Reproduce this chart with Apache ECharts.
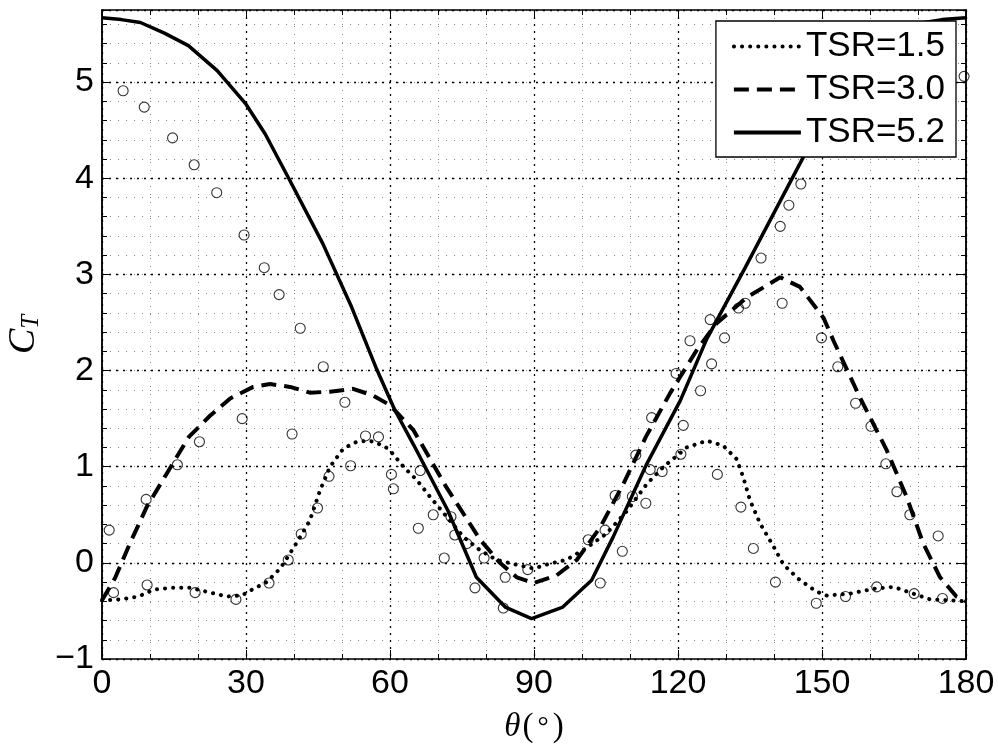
<!DOCTYPE html>
<html>
<head>
    <meta charset="utf-8">
    <script src="https://cdn.jsdelivr.net/npm/echarts@6/dist/echarts.min.js"></script>
    <style>
        html, body { margin: 0; padding: 0; background: #fff; }
    </style>
</head>
<body>
    <div id="main" style="width: 998px;height:744px;"></div>
    <script type="text/javascript">
        // TSR=1.5 (dotted)
        var theta15 = [0, 3.8, 7.6, 10.7, 14.2, 18.3, 21.8, 26, 29.1, 31.2, 34.3, 37.1, 39.2, 41.3, 43.3, 45.4, 47.5, 50.3, 53.1, 55.8,
                       58.6, 60, 62.8, 65.6, 68.3, 71.8, 75.3, 78.8, 82.2, 86.4, 89.9, 93.2, 96.7, 100.8, 105, 109.2, 113.5, 117, 120.4, 121.8,
                       126, 129.4, 132.2, 133.6, 135, 137.1, 139.9, 142, 145.4, 148.9, 151, 155.8, 160.7, 164.9, 169, 172.5, 176.7, 180];
        var ct15 = [-0.39, -0.38, -0.35, -0.28, -0.26, -0.26, -0.30, -0.35, -0.34, -0.28, -0.20, -0.06, 0.10, 0.27, 0.44, 0.75, 1.0, 1.19, 1.26, 1.27,
                    1.22, 1.17, 1.0, 0.86, 0.69, 0.48, 0.27, 0.13, 0.03, -0.02, -0.06, -0.01, 0.03, 0.15, 0.30, 0.53, 0.82, 1.0, 1.14, 1.2,
                    1.27, 1.22, 1.08, 0.89, 0.65, 0.41, 0.17, -0.02, -0.18, -0.30, -0.34, -0.32, -0.27, -0.25, -0.32, -0.38, -0.39, -0.40];

        // TSR=3.0 (dashed)
        var theta30 = [0, 2.7, 5.8, 9.3, 13.5, 18.1, 22.5, 26.7, 31.5, 35, 39.2, 43.3, 47.5, 52.3, 56.5, 60, 64.9, 71.7, 78.8, 82.9,
                       86.4, 89.9, 94.7, 98.9, 103.8, 108.6, 113.3, 118.3, 120.4, 124, 128, 134.3, 141.3, 145.4, 150.3, 152.4, 157.9, 163.5, 167.6, 171.1,
                       174.6, 178, 180];
        var ct30 = [-0.39, -0.16, 0.20, 0.58, 0.93, 1.31, 1.53, 1.71, 1.83, 1.86, 1.83, 1.77, 1.78, 1.81, 1.74, 1.64, 1.38, 0.79, 0.24, 0.0,
                    -0.15, -0.21, -0.13, 0.03, 0.37, 0.82, 1.31, 1.76, 1.93, 2.22, 2.49, 2.76, 2.97, 2.87, 2.55, 2.31, 1.72, 1.17, 0.69, 0.20,
                    -0.15, -0.35, -0.40];

        // TSR=5.2 (solid)
        var theta52 = [0, 4, 8, 13, 18, 24, 30, 34, 39, 46, 52, 57, 61, 65, 72, 78, 84, 89.5, 96, 102, 106.5, 113.5, 120.5, 126,
                       134, 146, 150, 155, 160, 165, 170, 175, 180];
        var ct52 = [5.67, 5.65, 5.62, 5.51, 5.38, 5.12, 4.77, 4.46, 3.99, 3.32, 2.66, 2.04, 1.59, 1.22, 0.55, -0.15, -0.46, -0.58, -0.46, -0.18, 0.27, 1.03, 1.69, 2.33,
                    3.07, 4.21, 4.58, 4.98, 5.30, 5.52, 5.61, 5.65, 5.67];

        // open circles (measurements)
        var circTheta = [1.5, 2.4, 4.4, 8.8, 9.2, 9.4, 14.7, 15.7, 19.2, 19.4, 20.3, 23.9, 27.9, 29.2, 29.6, 33.8, 34.8, 36.9, 38.8, 39.6,
                         41.3, 41.5, 44.9, 46.1, 47.3, 50.6, 51.8, 54.9, 57.6, 60.3, 60.7, 65.9, 66.3, 69.0, 71.3, 72.7, 73.5, 76.0, 77.7, 79.6,
                         83.6, 84.0, 88.7, 101.3, 103.8, 104.8, 106.9, 108.4, 110.5, 111.2, 113.3, 114.2, 114.5, 116.7, 119.6, 120.6, 121.1, 122.5, 124.7, 126.7,
                         127.0, 128.2, 129.7, 132.6, 133.1, 134.0, 135.7, 137.3, 140.3, 141.3, 141.7, 143.1, 145.6, 148.8, 149.9, 153.3, 154.9, 157.0, 160.2, 161.4,
                         163.3, 165.6, 168.3, 169.2, 174.2, 175.1, 179.6];
        var circCt = [0.34, -0.31, 4.91, 4.74, 0.66, -0.23, 4.42, 1.02, 4.14, -0.31, 1.26, 3.85, -0.38, 1.50, 3.41, 3.07, -0.21, 2.79, 0.03, 1.34,
                      2.44, 0.30, 0.57, 2.04, 0.90, 1.67, 1.01, 1.32, 1.31, 0.92, 0.77, 0.36, 0.96, 0.50, 0.05, 0.48, 0.29, 0.20, -0.26, 0.05,
                      -0.47, -0.15, -0.07, 0.24, -0.21, 0.34, 0.70, 0.12, 0.69, 1.12, 0.62, 0.97, 1.51, 0.95, 1.97, 1.13, 1.43, 2.31, 1.79, 2.53,
                      2.07, 0.92, 2.34, 2.65, 0.58, 2.70, 0.15, 3.17, -0.20, 3.50, 2.70, 3.72, 3.94, -0.42, 2.34, 2.04, -0.35, 1.66, 1.42, -0.25,
                      1.03, 0.74, 0.50, -0.32, 0.28, -0.37, 5.06];

        var xTicks = [0, 30, 60, 90, 120, 150, 180];
        var yTicks = [-1, 0, 1, 2, 3, 4, 5];

        function pairs(xs, ys) {
            return xs.map(function (x, i) { return [x, ys[i]]; });
        }

        var labelFont = { fontFamily: 'Liberation Sans', fontSize: 34, color: '#000' };
        var majorGrid = { color: '#000', width: 1.3, type: [2, 5] };
        var minorGrid = { color: '#888', width: 1, type: [1, 7] };
        var boxLine = { show: true, onZero: false, lineStyle: { color: '#000', width: 1.5 } };

        var option = {
            animation: false,
            backgroundColor: '#fff',
            grid: { left: 102, right: 32, top: 10, bottom: 85, containLabel: false, outerBoundsMode: 'none' },
            legend: {
                orient: 'vertical',
                right: 42,
                top: 21,
                data: ['TSR=1.5', 'TSR=3.0', 'TSR=5.2'],
                itemWidth: 67,
                itemHeight: 20,
                itemGap: 0,
                padding: [4, 11, 3, 16],
                backgroundColor: '#fff',
                borderColor: '#000',
                borderWidth: 1.3,
                itemStyle: { opacity: 0 },
                lineStyle: { width: 4 },
                textStyle: { fontFamily: 'Liberation Sans', fontSize: 35, lineHeight: 43, color: '#000' }
            },
            xAxis: [
                {
                    type: 'value', min: 0, max: 180, interval: 30, position: 'bottom',
                    axisLine: boxLine,
                    axisTick: { show: true, inside: true, length: 9, lineStyle: { color: '#000', width: 1 } },
                    minorTick: { show: true, splitNumber: 3, length: 5, lineStyle: { color: '#000', width: 1 } },
                    splitLine: { show: true, lineStyle: majorGrid },
                    minorSplitLine: { show: true, lineStyle: minorGrid },
                    axisLabel: Object.assign({ margin: 8, formatter: function (v) { return xTicks.indexOf(v) >= 0 ? String(v) : ''; } }, labelFont),
                    name: '{t|θ}{p|(}{d|°}{p|)}',
                    nameLocation: 'middle',
                    nameGap: 52,
                    nameTextStyle: {
                        rich: {
                            t: { fontFamily: 'Liberation Serif', fontStyle: 'italic', fontSize: 33, color: '#000', padding: [0, 2, 0, 0] },
                            p: { fontFamily: 'Liberation Serif', fontSize: 33, color: '#000' },
                            d: { fontFamily: 'Liberation Serif', fontSize: 28, color: '#000', padding: [0, 4, 0, 4] }
                        }
                    }
                },
                {
                    type: 'value', min: 0, max: 180, interval: 30, position: 'top',
                    axisLine: boxLine,
                    axisTick: { show: true, inside: true, length: 9, lineStyle: { color: '#000', width: 1 } },
                    minorTick: { show: true, splitNumber: 3, length: 5, lineStyle: { color: '#000', width: 1 } },
                    splitLine: { show: false },
                    axisLabel: { show: false }
                }
            ],
            yAxis: [
                {
                    // minor grid, every 0.2
                    type: 'value', min: -1, max: 5.75, interval: 0.2, position: 'left',
                    axisLine: boxLine,
                    axisTick: { show: true, inside: true, length: 5, lineStyle: { color: '#000', width: 1 } },
                    splitLine: { show: true, lineStyle: minorGrid },
                    axisLabel: { show: false }
                },
                {
                    type: 'value', min: -1, max: 5.75, interval: 1, position: 'left',
                    axisLine: boxLine,
                    axisTick: { show: true, inside: true, length: 9, lineStyle: { color: '#000', width: 1 } },
                    splitLine: { show: true, lineStyle: majorGrid },
                    axisLabel: Object.assign({
                        margin: 8,
                        formatter: function (v) {
                            if (yTicks.indexOf(v) < 0) return '';
                            return v < 0 ? '\u2212' + Math.abs(v) : String(v);
                        }
                    }, labelFont),
                    name: '{c|C}{s|T}',
                    nameLocation: 'middle',
                    nameGap: 47,
                    nameTextStyle: {
                        rich: {
                            c: { fontFamily: 'Liberation Serif', fontStyle: 'italic', fontSize: 38, color: '#000' },
                            s: { fontFamily: 'Liberation Serif', fontStyle: 'italic', fontSize: 25, color: '#000', padding: [16, 0, 0, 0] }
                        }
                    }
                },
                {
                    type: 'value', min: -1, max: 5.75, interval: 1, position: 'right',
                    axisLine: boxLine,
                    axisTick: { show: true, inside: true, length: 9, lineStyle: { color: '#000', width: 1 } },
                    splitLine: { show: false },
                    axisLabel: { show: false }
                },
                {
                    type: 'value', min: -1, max: 5.75, interval: 0.2, position: 'right',
                    axisLine: boxLine,
                    axisTick: { show: true, inside: true, length: 5, lineStyle: { color: '#000', width: 1 } },
                    splitLine: { show: false },
                    axisLabel: { show: false }
                }
            ],
            series: [
                {
                    name: 'TSR=1.5',
                    type: 'line',
                    xAxisIndex: 0, yAxisIndex: 1,
                    symbol: 'none',
                    z: 3,
                    lineStyle: { color: '#000', width: 4, type: [0.1, 8], cap: 'round' },
                    itemStyle: { color: '#000' },
                    data: pairs(theta15, ct15)
                },
                {
                    name: 'TSR=3.0',
                    type: 'line',
                    xAxisIndex: 0, yAxisIndex: 1,
                    symbol: 'none',
                    z: 3,
                    lineStyle: { color: '#000', width: 4, type: [15, 8] },
                    itemStyle: { color: '#000' },
                    data: pairs(theta30, ct30)
                },
                {
                    name: 'TSR=5.2',
                    type: 'line',
                    xAxisIndex: 0, yAxisIndex: 1,
                    symbol: 'none',
                    z: 3,
                    lineStyle: { color: '#000', width: 3.5 },
                    itemStyle: { color: '#000' },
                    data: pairs(theta52, ct52)
                },
                {
                    name: 'data',
                    type: 'scatter',
                    xAxisIndex: 0, yAxisIndex: 1,
                    symbol: 'circle',
                    symbolSize: 10,
                    z: 4,
                    itemStyle: { color: 'rgba(0,0,0,0)', borderColor: '#000', borderWidth: 1.1 },
                    data: pairs(circTheta, circCt)
                }
            ]
        };

        var myChart = echarts.init(document.getElementById('main'), null, { renderer: 'canvas' });
        myChart.setOption(option);
    </script>
</body>
</html>
